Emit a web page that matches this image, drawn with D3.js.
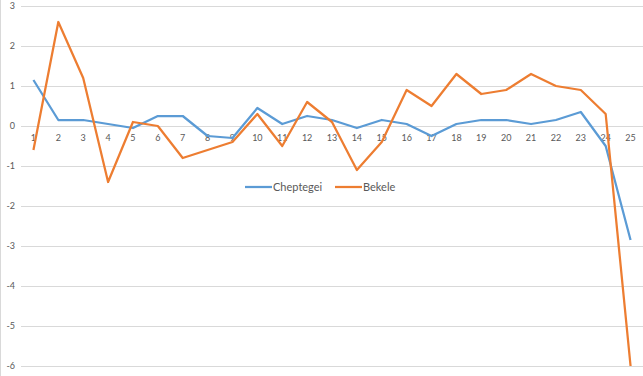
<!DOCTYPE html>
<html>
<head>
<meta charset="utf-8">
<script src="https://cdn.jsdelivr.net/npm/d3@7"></script>
<style>
  body { margin: 0; background: #fff; }
  svg { display: block; font-family: Lato, "Open Sans", sans-serif; }
</style>
</head>
<body>
<script>
var laps = d3.range(1, 26).map(String);
var cheptegei = [1.15, 0.15, 0.15, 0.05, -0.05, 0.25, 0.25, -0.25, -0.3, 0.45,
                 0.05, 0.25, 0.15, -0.05, 0.15, 0.05, -0.25, 0.05, 0.15, 0.15,
                 0.05, 0.15, 0.35, -0.5, -2.85];
var bekele = [-0.6, 2.6, 1.2, -1.4, 0.1, 0, -0.8, -0.6, -0.4, 0.3,
              -0.5, 0.6, 0.1, -1.1, -0.4, 0.9, 0.5, 1.3, 0.8, 0.9,
              1.3, 1.0, 0.9, 0.3, -6];
var yTicks = [3, 2, 1, 0, -1, -2, -3, -4, -5, -6];

var series = [
  {name: "Cheptegei", values: cheptegei, color: "#5b9bd5"},
  {name: "Bekele", values: bekele, color: "#ed7d31"}
];

var width = 643, height = 376;
var plotLeft = 21, plotRight = 643;

var svg = d3.select("body").append("svg")
    .attr("width", width)
    .attr("height", height);

svg.append("rect")
    .attr("x", 0.5).attr("y", -1)
    .attr("width", width).attr("height", height + 2)
    .attr("fill", "none")
    .attr("stroke", "#d9d9d9");

var x = d3.scaleBand().domain(laps).range([plotLeft, plotRight]);
var y = d3.scaleLinear().domain([-6, 3]).range([366, 6]);

// gridlines
svg.append("g").selectAll("line")
    .data(yTicks)
    .enter().append("line")
    .attr("x1", plotLeft).attr("x2", plotRight)
    .attr("y1", function(d){ return Math.round(y(d)) + 0.5; })
    .attr("y2", function(d){ return Math.round(y(d)) + 0.5; })
    .attr("stroke", "#d9d9d9")
    .attr("stroke-width", 1);

// y labels
svg.append("g").selectAll("text")
    .data(yTicks)
    .enter().append("text")
    .attr("x", 15)
    .attr("y", function(d){ return y(d); })
    .attr("dy", "0.35em")
    .attr("text-anchor", "end")
    .attr("font-size", 9)
    .attr("fill", "#595959")
    .text(function(d){ return d; });

// x labels sit just under the zero line
svg.append("g").selectAll("text")
    .data(laps)
    .enter().append("text")
    .attr("x", function(d){ return x(d) + x.bandwidth() / 2; })
    .attr("y", y(0) + 15)
    .attr("text-anchor", "middle")
    .attr("font-size", 9)
    .attr("fill", "#595959")
    .text(function(d){ return d; });

var line = d3.line()
    .x(function(d, i){ return x(laps[i]) + x.bandwidth() / 2; })
    .y(function(d){ return y(d); });

svg.append("g").selectAll("path")
    .data(series)
    .enter().append("path")
    .attr("d", function(s){ return line(s.values); })
    .attr("fill", "none")
    .attr("stroke", function(s){ return s.color; })
    .attr("stroke-width", 2.25)
    .attr("stroke-linejoin", "round");

// legend
var legendPos = [245, 335];
var legend = svg.append("g").selectAll("g")
    .data(series)
    .enter().append("g")
    .attr("transform", function(s, i){ return "translate(" + legendPos[i] + ",187)"; });

legend.append("line")
    .attr("x1", 0).attr("x2", 27)
    .attr("stroke", function(s){ return s.color; })
    .attr("stroke-width", 2.25);

legend.append("text")
    .attr("x", 28)
    .attr("dy", "0.35em")
    .attr("font-size", 11)
    .attr("fill", "#595959")
    .text(function(s){ return s.name; });
</script>
</body>
</html>
